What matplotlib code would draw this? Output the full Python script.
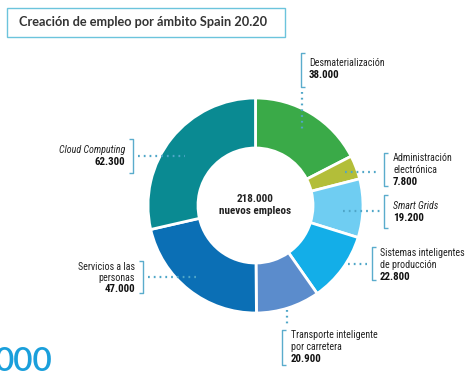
import matplotlib
matplotlib.use("Agg")
import matplotlib.pyplot as plt
from matplotlib.patches import Rectangle
from matplotlib import font_manager

names = {f.name for f in font_manager.fontManager.ttflist}
NARROW = ["Liberation Sans Narrow", "Roboto Condensed", "Liberation Sans", "DejaVu Sans"]
NARROW = [n for n in NARROW if n in names] or ["DejaVu Sans"]

# ---- data ----
categories = ["Desmaterialización", "Administración\nelectrónica", "Smart Grids",
              "Sistemas inteligentes\nde producción", "Transporte inteligente\npor carretera",
              "Servicios a las\npersonas", "Cloud Computing"]
values = [38.0, 7.8, 19.2, 22.8, 20.9, 47.0, 62.3]
value_labels = ["38.000", "7.800", "19.200", "22.800", "20.900", "47.000", "62.300"]
colors = ["#3aaa48", "#b3be39", "#6fcdf2", "#13aee8", "#5b8ccc", "#0b6fb5", "#0a8a92"]
italic = [False, False, True, False, False, False, True]
total_label = "218.000"

W, H = 476, 372
fig = plt.figure(figsize=(W / 100, H / 100), dpi=100)
ax = fig.add_axes([0, 0, 1, 1])
ax.set_xlim(0, W)
ax.set_ylim(0, H)
ax.set_aspect("equal")
ax.axis("off")

def Y(y):
    return H - y

cx, cy, R = 255.5, 205.5, 107.5
ax.pie(values, colors=colors, startangle=90, counterclock=False,
       center=(cx, Y(cy)), radius=R, frame=True,
       wedgeprops=dict(width=R - 57.5, edgecolor="white", linewidth=2))
ax.set_xlim(0, W)
ax.set_ylim(0, H)
ax.axis("off")

# title box
ax.add_patch(Rectangle((7, Y(37)), 278, 29, fill=False, edgecolor="#6cc4dc", linewidth=1))
ax.text(19, Y(22.5), "Creación de empleo por ámbito Spain 20.20", fontsize=9.2,
        fontweight="bold", color="#333333", va="center", ha="left", family=["Lato", "DejaVu Sans"])

# center text
ax.text(cx, Y(199), total_label, ha="center", va="center", fontsize=8,
        fontweight="bold", family=NARROW, color="#222222")
ax.text(cx, Y(211), "nuevos empleos", ha="center", va="center", fontsize=8,
        fontweight="bold", family=NARROW, color="#222222")

BR = "#5aaccc"
DOT = "#4fa6c8"

def bracket(x, y0, y1, side="left"):
    d = 4 if side == "left" else -4
    ax.plot([x + d, x, x, x + d], [Y(y0), Y(y0), Y(y1), Y(y1)], color=BR, lw=1, solid_capstyle="butt")

def dots(x0, y0, x1, y1):
    ax.plot([x0, x1], [Y(y0), Y(y1)], color=DOT, lw=1.6, linestyle=(0, (0.8, 1.8)))

def label(i, x, y, ha, lh=12):
    lines = categories[i].split("\n")
    for k, ln in enumerate(lines):
        ax.text(x, Y(y + k * lh), ln, ha=ha, va="center", fontsize=7.2, family=NARROW,
                style="italic" if italic[i] else "normal", color="#222222")
    ax.text(x, Y(y + len(lines) * lh), value_labels[i], ha=ha, va="center", fontsize=7.8,
            fontweight="bold", family=NARROW, color="#111111")

# Desmaterialización
bracket(301, 53, 87); dots(302, 92, 302, 130); label(0, 309, 63, "left")
# Administración electrónica
bracket(384, 153, 186); dots(345, 172, 378, 172); label(1, 393, 158, "left")
# Smart Grids
bracket(384, 195, 228); dots(343, 211, 380, 211); label(2, 393, 206, "left")
# Sistemas inteligentes
bracket(372, 247, 280); dots(348, 264, 367, 264); label(3, 380, 253, "left")
# Transporte
bracket(282, 330, 365); dots(287, 310, 287, 325); label(4, 291, 335, "left")
# Cloud Computing
bracket(133, 139, 173, side="right"); dots(138, 156, 185, 156); label(6, 125, 150, "right")
# Servicios
bracket(143, 261, 293, side="right"); dots(148, 277, 198, 277); label(5, 135, 267, "right", lh=11)

# partial large number bottom-left
ax.text(-6, Y(371), "000", ha="left", va="baseline", fontsize=24, fontweight="semibold",
        color="#1a9fdb", family=["Lato", "DejaVu Sans"])

fig.savefig("out.png", dpi=100)
